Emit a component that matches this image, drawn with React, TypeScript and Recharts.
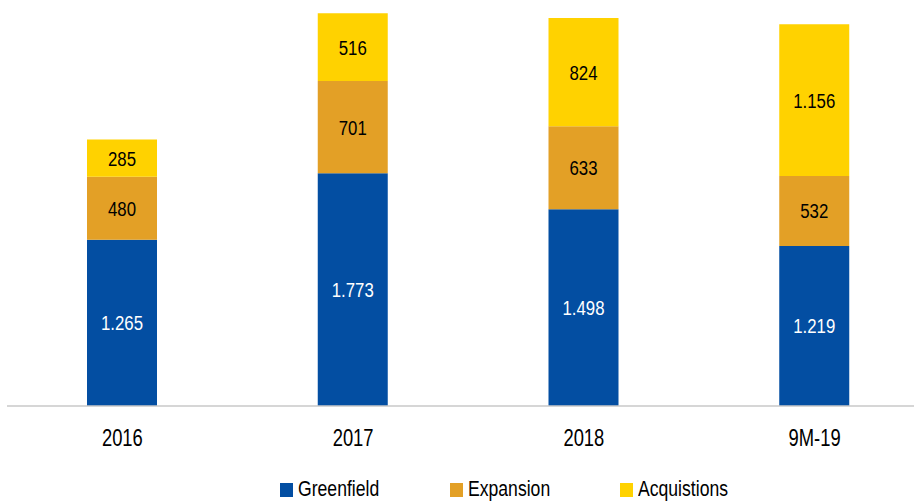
import React from "react"
import { Bar, BarChart, LabelList, Legend, XAxis, YAxis } from "recharts"

const categories = ["2016", "2017", "2018", "9M-19"]
const greenfield = [1265, 1773, 1498, 1219]
const expansion = [480, 701, 633, 532]
const acquistions = [285, 516, 824, 1156]

// condensed look: Liberation Sans squeezed horizontally
const FONT = "'Liberation Sans', Arial, sans-serif"
const SQUEEZE = 0.8

const SERIES = [
  { key: "greenfield", name: "Greenfield", color: "#034ea2", label: "#ffffff" },
  { key: "expansion", name: "Expansion", color: "#e3a026", label: "#000000" },
  { key: "acquistions", name: "Acquistions", color: "#ffd200", label: "#000000" },
]

const data = categories.map((c, i) => ({
  category: c,
  greenfield: greenfield[i],
  expansion: expansion[i],
  acquistions: acquistions[i],
}))

// 1265 -> "1.265"
const fmt = (v: any) => String(v).replace(/\B(?=(\d{3})+(?!\d))/g, ".")

const Tick = ({ x, y, payload }: any) => (
  <text
    transform={`translate(${x},${y + 40}) scale(${SQUEEZE},1)`}
    textAnchor="middle"
    fontSize={23}
    fontFamily={FONT}
    fill="#000"
  >
    {payload.value}
  </text>
)

const makeLabel = (color: string) => (props: any) => {
  const { x, y, width, height, value } = props
  const cx = x + width / 2
  const cy = y + height / 2 + 7.5
  return (
    <text
      transform={`translate(${cx},${cy}) scale(${SQUEEZE},1)`}
      textAnchor="middle"
      fontSize={21}
      fontFamily={FONT}
      fill={color}
    >
      {fmt(value)}
    </text>
  )
}

const LegendContent = () => (
  <div style={{ display: "flex", paddingLeft: 280, height: 21, fontFamily: FONT, fontSize: 22, lineHeight: "21px" }}>
    {SERIES.map((s) => (
      <div key={s.key} style={{ display: "flex", alignItems: "center", width: 170 }}>
        <div style={{ width: 13, height: 14, background: s.color, marginRight: 5, marginTop: 3 }} />
        <span style={{ color: "#000", display: "inline-block", transform: `scaleX(${SQUEEZE})`, transformOrigin: "left" }}>
          {s.name}
        </span>
      </div>
    ))}
  </div>
)

export default function App() {
  return (
    <div
      style={{
        position: "fixed",
        left: 0,
        top: 0,
        width: 914,
        height: 501,
        overflow: "hidden",
        background: "#fff",
      }}
    >
      <BarChart width={930} height={501} data={data} margin={{ top: 12, right: 0, left: 7, bottom: 0 }}>
        <XAxis
          dataKey="category"
          axisLine={{ stroke: "#c8c8c8", strokeWidth: 1.5 }}
          tickLine={false}
          tickSize={0}
          tickMargin={0}
          height={74}
          tick={<Tick />}
        />
        <YAxis hide domain={[0, 3000]} />
        <Legend verticalAlign="bottom" content={<LegendContent />} wrapperStyle={{ left: 0, bottom: 2, width: 930 }} />
        {SERIES.map((s) => (
          <Bar key={s.key} dataKey={s.key} name={s.name} stackId="a" fill={s.color} barSize={70} isAnimationActive={false}>
            <LabelList dataKey={s.key} content={makeLabel(s.label)} />
          </Bar>
        ))}
      </BarChart>
    </div>
  )
}
